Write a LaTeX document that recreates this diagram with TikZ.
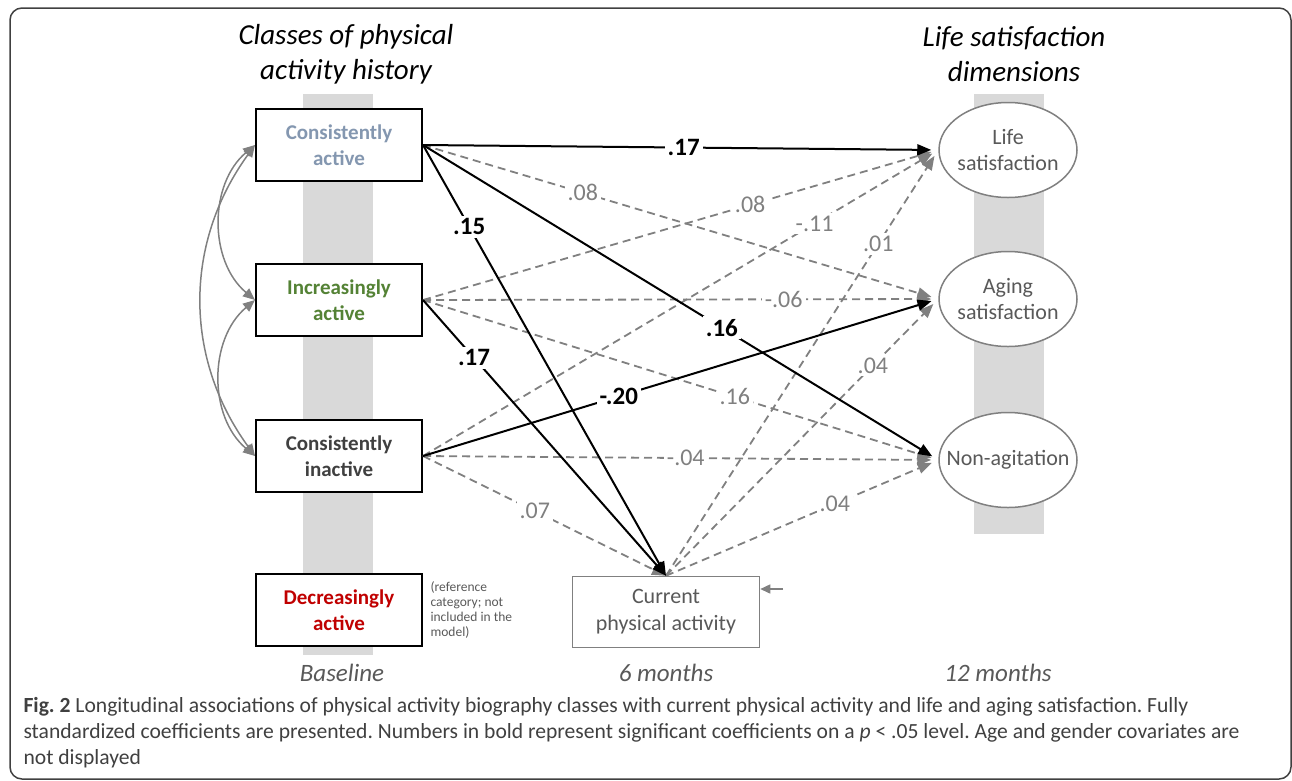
\documentclass[tikz,border=0pt]{standalone}
\usepackage{fontspec}
\setmainfont{Carlito}
\usepackage{tikz}
\usetikzlibrary{arrows.meta,positioning,shapes.geometric}

\definecolor{bandgray}{HTML}{D9D9D9}
\definecolor{pathgray}{HTML}{808080}
\definecolor{txtgray}{HTML}{595959}
\definecolor{cablue}{HTML}{8497B0}
\definecolor{iagreen}{HTML}{548235}
\definecolor{cidark}{HTML}{404040}
\definecolor{dared}{HTML}{C00000}

\begin{document}
\frenchspacing
\begin{tikzpicture}[x=1pt,y=-1pt]
  \tikzset {
    box/.style={
      rectangle,
      draw=black,
      line width=2pt,
      fill=white,
      minimum width=166pt,
      minimum height=72pt,
      align=center,
      font=\fontsize{21}{26}\selectfont\bfseries
    },
    outcome/.style={
      ellipse,
      draw=pathgray,
      line width=1.5pt,
      fill=white,
      minimum width=138pt,
      minimum height=95pt
    },
    outtext/.style={
      text=txtgray,
      align=center,
      font=\fontsize{22}{26}\selectfont
    },
    current/.style={
      rectangle,
      draw=pathgray,
      line width=1.5pt,
      fill=white,
      text=txtgray,
      minimum width=187pt,
      minimum height=71pt,
      align=center,
      font=\fontsize{22}{27}\selectfont
    },
    heading/.style={align=center, font=\fontsize{29}{35}\selectfont\itshape},
    wave/.style={text=txtgray, font=\fontsize{25}{28}\selectfont\itshape},
    >={Triangle[length=14pt,width=11pt]},
    sig/.style={->, draw=black, line width=2pt},
    ns/.style={->, draw=pathgray, line width=1.8pt, dash pattern=on 8pt off 5pt},
    cov/.style={<->, draw=pathgray, line width=1.5pt, >={Triangle[length=12pt,width=10pt]}},
    to ell/.style={shorten >=7pt},
    coef/.style={fill=white, inner sep=3pt, text=pathgray, font=\fontsize{24}{24}\selectfont},
    sigcoef/.style={coef, text=black, font=\fontsize{25}{25}\selectfont\bfseries}
  }
  \useasboundingbox (0,0) rectangle (1292,780);
  \draw[line width=1.5pt, rounded corners=12pt, draw=cidark] (10,8) rectangle (1291,779);

  % grey bands behind the columns
  \fill[bandgray] (303,94) rectangle (373,655);
  \fill[bandgray] (974,94) rectangle (1044,534);

  \node[heading](classes) at (346,54) {Classes of physical\\activity history};
  \node[heading](dims) at (1014,54) {Life satisfaction\\dimensions};

  \node[box, text=cablue](ca) at (339,145) {Consistently\\active};
  \node[box, text=iagreen, below of=ca, node distance=155pt](ia) {Increasingly\\active};
  \node[box, text=cidark, below of=ia, node distance=156pt](ci) {Consistently\\inactive};
  \node[box, text=dared, below of=ci, node distance=154pt](da) {Decreasingly\\active};
  \node[right=4pt of da, align=left, text=txtgray, font=\fontsize{13.5}{15}\selectfont](note)
    {(reference\\category; not\\included in the\\model)};

  \node[current](cpa) at (666,612) {Current\\physical activity};
  \coordinate (cpa err) at (783,589);

  \node[outcome](ls) at (1008,150) {};
  \node[outcome, below of=ls, node distance=149pt](as) {};
  \node[outcome, below of=as, node distance=161pt](na) {};
  \node[outtext](ls text) at (ls) {Life\\satisfaction};
  \node[outtext](as text) at (as) {Aging\\satisfaction};
  \node[outtext](na text) at (na) {Non-agitation};

  \node[wave](base) at (342,673) {Baseline};
  \node[wave](six) at (666,673) {6 months};
  \node[wave](twelve) at (998,673) {12 months};

  % correlations among the classes
  \path (ca.west) edge[cov, bend right=50] (ia.west);
  \path (ia.west) edge[cov, bend right=50] (ci.west);
  \path (ca.west) edge[cov, bend right=36] (ci.west);

  % non-significant paths
  \path (ca.east) edge[ns, to ell] node[coef, pos=0.31]{.08} (as.west);
  \path (ia.east) edge[ns, to ell] node[coef, pos=0.635]{.08} (ls.west);
  \path (ia.east) edge[ns, to ell] node[coef, pos=0.70]{-.06} (as.west);
  \path (ia.east) edge[ns, to ell] node[coef, pos=0.605]{.16} (na.west);
  \path (ci.east) edge[ns, to ell] node[coef, pos=0.76]{-.11} (ls.west);
  \path (ci.east) edge[ns, to ell] node[coef, pos=0.51]{-.04} (na.west);
  \path (ci.east) edge[ns] node[coef, pos=0.46]{.07} (cpa.north);
  \path (cpa.north) edge[ns, to ell] node[coef, pos=0.78]{.01} (ls.west);
  \path (cpa.north) edge[ns, to ell] node[coef, pos=0.76]{.04} (as.west);
  \path (cpa.north) edge[ns, to ell] node[coef, pos=0.62]{.04} (na.west);
  \path (cpa err) edge[->, draw=pathgray, line width=1.5pt, >={Triangle[length=10pt,width=9pt]}] (cpa.east |- cpa err);

  % significant paths
  \path (ca.east) edge[sig, to ell] node[sigcoef, pos=0.506]{.17} (ls.west);
  \path (ca.east) edge[sig, to ell] node[sigcoef, pos=0.58]{.16} (na.west);
  \path (ca.east) edge[sig] node[sigcoef, pos=0.19]{.15} (cpa.north);
  \path (ia.east) edge[sig] node[sigcoef, pos=0.21]{.17} (cpa.north);
  \path (ci.east) edge[sig, to ell] node[sigcoef, pos=0.38]{-.20} (as.west);

  \node[anchor=north west, align=left, text=cidark, font=\fontsize{21.6}{26}\selectfont](caption) at (20,694)
    {\textbf{Fig. 2} Longitudinal associations of physical activity biography classes with current physical activity and life and aging satisfaction. Fully\\
     standardized coefficients are presented. Numbers in bold represent significant coefficients on a \textit{p} < .05 level. Age and gender covariates are\\
     not displayed};
\end{tikzpicture}
\end{document}
